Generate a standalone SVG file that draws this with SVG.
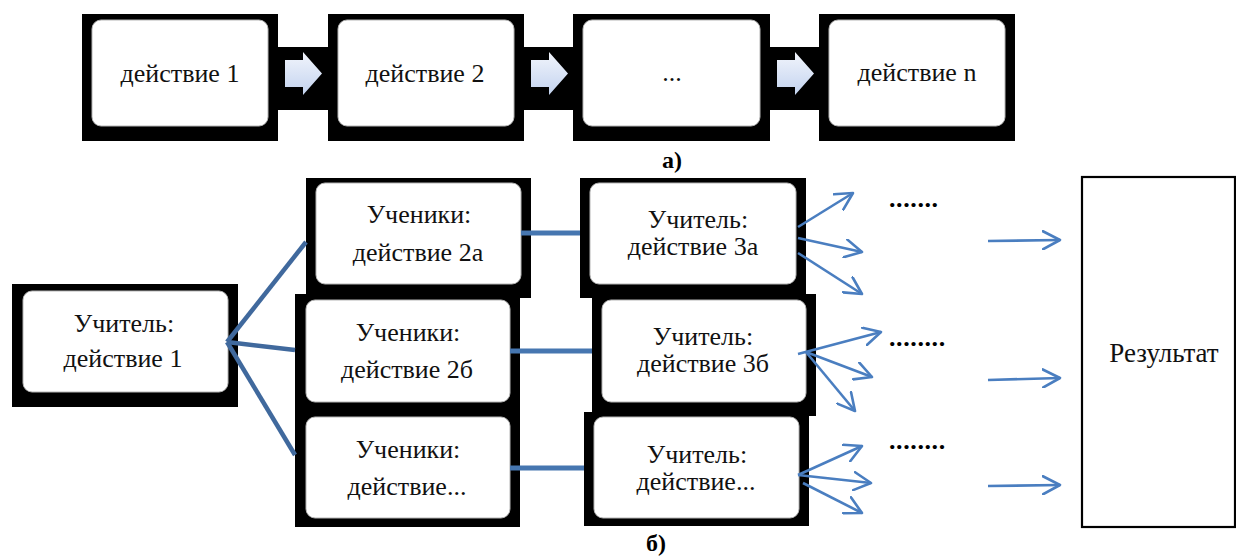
<svg xmlns="http://www.w3.org/2000/svg" width="1236" height="557" viewBox="0 0 1236 557">
<style>
.blk{fill:#000}
.card{fill:#fff;stroke:#b5b5b5;stroke-width:1}
.t{font-family:"Liberation Serif","Times New Roman",serif;font-size:26px;fill:#111;text-anchor:middle}
.lbl{font-family:"Liberation Serif","Times New Roman",serif;font-size:24px;font-weight:bold;fill:#000;text-anchor:middle}
.dots{font-family:"Liberation Serif","Times New Roman",serif;font-size:26px;font-weight:bold;fill:#000;letter-spacing:0.6px}
.res{font-family:"Liberation Serif","Times New Roman",serif;font-size:27px;fill:#111;text-anchor:middle}
.diag{stroke:#40699d;stroke-width:4.5;fill:none}
.hor{stroke:#4676b0;stroke-width:5;fill:none}
.thin{stroke:#4a7ec0;stroke-width:2.6;fill:none;marker-end:url(#open)}
.blockarrow{fill:url(#ag)}
</style>
<defs>
<linearGradient id="ag" x1="0" y1="0" x2="0" y2="1">
<stop offset="0" stop-color="#f2f5fc"/>
<stop offset="1" stop-color="#c3d3ef"/>
</linearGradient>
<marker id="open" viewBox="0 0 20 20" refX="18" refY="10" markerWidth="20" markerHeight="20" markerUnits="userSpaceOnUse" orient="auto">
<path d="M1,1 L18,10 L1,19" fill="none" stroke="#4a7ec0" stroke-width="2.6" stroke-linecap="round" stroke-linejoin="round"/>
</marker>
</defs>
<rect width="1236" height="557" fill="#fff"/>

<!-- part a -->
<g id="chain-band">
<rect class="blk" x="82" y="47" width="933" height="63"/>
</g>
<g id="a1">
<rect class="blk" x="82" y="14" width="196" height="127"/>
<rect class="card" x="92" y="20" width="176" height="106" rx="9"/>
<text class="t" x="180" y="82">действие 1</text>
</g>
<g id="a2">
<rect class="blk" x="328" y="14" width="196" height="127"/>
<rect class="card" x="338" y="20" width="176" height="106" rx="9"/>
<text class="t" x="425" y="82">действие 2</text>
</g>
<g id="a3">
<rect class="blk" x="573" y="14" width="197" height="127"/>
<rect class="card" x="583" y="20" width="177" height="106" rx="9"/>
<text class="t" x="672" y="81">...</text>
</g>
<g id="a4">
<rect class="blk" x="819" y="14" width="196" height="127"/>
<rect class="card" x="829" y="20" width="176" height="106" rx="9"/>
<text class="t" x="917" y="81">действие n</text>
</g>
<g id="chain-arrows">
<polygon class="blockarrow" points="285,60 303,60 303,52 322,73.5 303,95 303,87 285,87"/>
<polygon class="blockarrow" points="531,60 549,60 549,52 568,73.5 549,95 549,87 531,87"/>
<polygon class="blockarrow" points="777,60 795,60 795,52 814,73.5 795,95 795,87 777,87"/>
</g>
<text class="lbl" x="672" y="168">а)</text>

<!-- part b -->
<g id="teacher1">
<rect class="blk" x="12" y="284" width="226" height="123"/>
<rect class="card" x="23" y="291" width="205" height="101" rx="9"/>
<text class="t" x="124" y="332">Учитель:</text>
<text class="t" x="123" y="367">действие 1</text>
</g>
<g id="students2a">
<rect class="blk" x="306" y="178" width="225" height="120"/>
<rect class="card" x="316" y="183" width="205" height="101" rx="9"/>
<text class="t" x="419" y="223">Ученики:</text>
<text class="t" x="418" y="261">действие 2а</text>
</g>
<g id="students2b">
<rect class="blk" x="295" y="294" width="225" height="123"/>
<rect class="card" x="306" y="300" width="204" height="102" rx="9"/>
<text class="t" x="408" y="341">Ученики:</text>
<text class="t" x="407" y="378">действие 2б</text>
</g>
<g id="students2n">
<rect class="blk" x="295" y="411" width="225" height="116"/>
<rect class="card" x="306" y="417" width="204" height="101" rx="9"/>
<text class="t" x="408" y="458">Ученики:</text>
<text class="t" x="407" y="495">действие...</text>
</g>
<g id="teacher3a">
<rect class="blk" x="580" y="178" width="226" height="120"/>
<rect class="card" x="590" y="183" width="206" height="101" rx="9"/>
<text class="t" x="698" y="228">Учитель:</text>
<text class="t" x="693" y="255">действие 3а</text>
</g>
<g id="teacher3b">
<rect class="blk" x="592" y="294" width="224" height="122"/>
<rect class="card" x="602" y="300" width="204" height="102" rx="9"/>
<text class="t" x="703" y="345">Учитель:</text>
<text class="t" x="703" y="372">действие 3б</text>
</g>
<g id="teacher3n">
<rect class="blk" x="584" y="412" width="225" height="114"/>
<rect class="card" x="594" y="417" width="205" height="101" rx="9"/>
<text class="t" x="697" y="463">Учитель:</text>
<text class="t" x="696" y="490">действие...</text>
</g>
<g id="result">
<rect x="1082" y="177" width="153" height="350" fill="#fff" stroke="#000" stroke-width="2.2"/>
<text class="res" x="1164" y="362">Результат</text>
</g>
<g id="ellipses">
<text class="dots" x="889" y="207">.......</text>
<text class="dots" x="889" y="346">........</text>
<text class="dots" x="889" y="449">........</text>
</g>

<g id="connectors">
<line class="diag" x1="227" y1="342" x2="306" y2="242"/>
<line class="diag" x1="227" y1="342" x2="295" y2="350"/>
<line class="diag" x1="227" y1="342" x2="295" y2="455"/>
<line class="hor" x1="521" y1="233" x2="580" y2="233"/>
<line class="hor" x1="510" y1="351" x2="592" y2="351"/>
<line class="hor" x1="510" y1="468" x2="584" y2="468"/>

<line class="thin" x1="798" y1="227" x2="853" y2="193"/>
<line class="thin" x1="798" y1="238" x2="862" y2="252"/>
<line class="thin" x1="798" y1="253" x2="862" y2="294"/>

<line class="thin" x1="798" y1="354" x2="881" y2="332"/>
<line class="thin" x1="806" y1="352" x2="872" y2="377"/>
<line class="thin" x1="806" y1="352" x2="855" y2="411"/>

<line class="thin" x1="798" y1="475" x2="862" y2="446"/>
<line class="thin" x1="798" y1="475" x2="871" y2="483"/>
<line class="thin" x1="803" y1="483" x2="862" y2="513"/>

<line class="thin" x1="988" y1="241" x2="1060" y2="240"/>
<line class="thin" x1="988" y1="380" x2="1060" y2="378"/>
<line class="thin" x1="988" y1="486" x2="1060" y2="485"/>
</g>
<text class="lbl" x="656" y="551">б)</text>
</svg>
